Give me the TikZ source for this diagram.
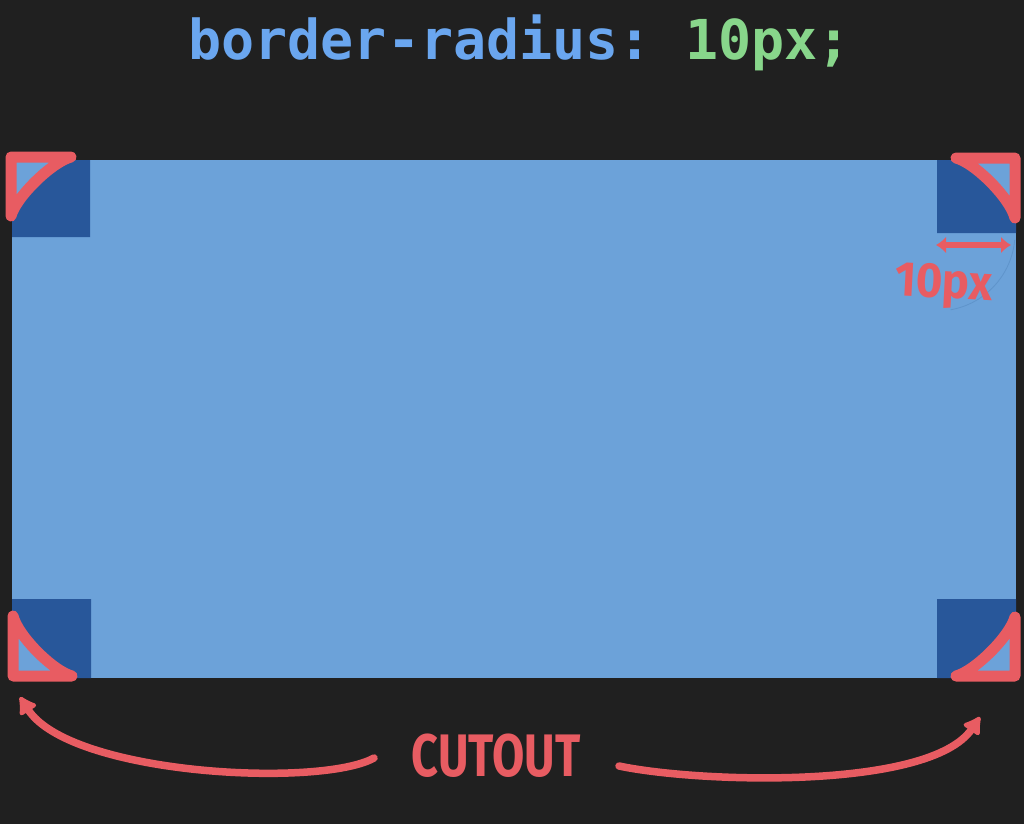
\documentclass[tikz,border=0pt]{standalone}
\usepackage{fontspec}
\usetikzlibrary{arrows.meta}
\newfontfamily\codefont{DejaVu Sans Mono}
\newfontfamily\handfont{Fira Sans}
\definecolor{bg}{HTML}{202020}
\definecolor{lightblue}{HTML}{6CA2D9}
\definecolor{darkblue}{HTML}{28579A}
\definecolor{mark}{HTML}{E85C62}
\definecolor{titleblue}{HTML}{6AA6EF}
\definecolor{titlegreen}{HTML}{88D68B}
\definecolor{faint}{HTML}{5F94CB}
\tikzset{
  cutline/.style={draw=mark, line width=11pt, line join=round, line cap=round},
  darkcorner/.style={fill=darkblue},
  bigarrow/.style={draw=mark, line width=7.5pt, line cap=round, -{Latex[length=20pt,width=24pt,round]}},
  label/.style={inner sep=0pt, anchor=base, text=mark},
}
\begin{document}
\begin{tikzpicture}[x=1pt,y=-1pt]
\useasboundingbox (0,0) rectangle (1024,824);
\fill[bg] (0,0) rectangle (1024,824);

% title
\node[inner sep=0pt, anchor=base] (title) at (519.5,60)
  {\codefont\bfseries\fontsize{55}{60}\selectfont\textcolor{titleblue}{border-radius:}\textcolor{titlegreen}{\ 10px;}};

% main box
\fill[lightblue] (12,160) rectangle (1016,678);

% dark corner squares with rounded outer corner
\fill[darkcorner] (12,237) -- (12,217) .. controls (16,197) and (52,161) .. (72,160) -- (90,160) -- (90,237) -- cycle;
\fill[darkcorner] (937,160) -- (955,160) .. controls (975,162) and (1011,198) .. (1016,218) -- (1016,233) -- (937,233) -- cycle;
\fill[darkcorner] (12,599) -- (91,599) -- (91,678) -- (73,678) .. controls (53,672) and (17,636) .. (12,616) -- cycle;
\fill[darkcorner] (937,599) -- (1016,599) -- (1016,616) .. controls (1011,636) and (975,672) .. (955,678) -- (937,678) -- cycle;

% faint radius circle
\draw[faint, line width=0.8pt] (937,233) ++(5:78) arc[start angle=5, end angle=80, radius=78];

% red cutout outlines
\draw[cutline] (11,157) -- (71,157) .. controls (52,162) and (16,197) .. (11,216) -- cycle;
\draw[cutline] (1015,158) -- (1015,218) .. controls (1010,198) and (975,163) .. (956,158) -- cycle;
\draw[cutline] (13,676) -- (13,616) .. controls (18,636) and (53,671) .. (72,676) -- cycle;
\draw[cutline] (1015,676) -- (1015,617) .. controls (1010,636) and (975,671) .. (956,676) -- cycle;

% 10px measure
\coordinate (mA) at (936,245);
\coordinate (mB) at (1011,245);
\draw[draw=mark, line width=5.5pt, {Latex[length=10pt,width=17pt]}-{Latex[length=10pt,width=17pt]}] (mA) -- (mB);
\node[label, rotate=-3, xscale=0.93] (ten) at (943,298)
  {\handfont\bfseries\fontsize{49}{49}\selectfont 10px};

% CUTOUT label and arrows
\node[label, xscale=0.78] (cutout) at (496,776)
  {\handfont\bfseries\fontsize{60}{60}\selectfont CUTOUT};
\coordinate (lstart) at (374,758);
\coordinate (ltip) at (20,697);
\coordinate (rstart) at (619,766);
\coordinate (rtip) at (980,717);
\draw[bigarrow] (lstart) .. controls (320,788) and (70,775) .. (ltip);
\draw[bigarrow] (rstart) .. controls (700,783) and (930,790) .. (rtip);
\end{tikzpicture}
\end{document}
